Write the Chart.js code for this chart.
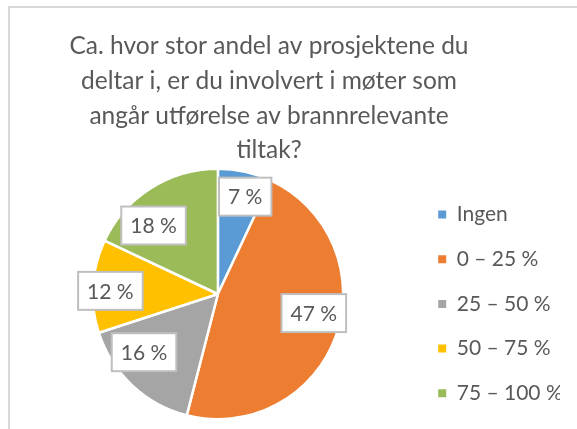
<!DOCTYPE html>
<html>
<head>
<meta charset="utf-8">
<script src="https://cdn.jsdelivr.net/npm/chart.js@4.4.1/dist/chart.umd.min.js"></script>
<style>
  html, body { margin: 0; padding: 0; background: #ffffff; overflow: hidden; width: 577px; height: 429px; }
  #frame { position: absolute; left: 8px; top: 6px; width: 700px; height: 600px;
           border-left: 2px solid #d9d9d9; border-top: 2px solid #d9d9d9; box-sizing: border-box; }
  #c { position: absolute; left: 0; top: 0; }
</style>
</head>
<body>
<div id="frame"></div>
<canvas id="c" width="577" height="429"></canvas>
<script>
// ---- data ----
const titleLines = [
  'Ca. hvor stor andel av prosjektene du',
  'deltar i, er du involvert i møter som',
  'angår utførelse av brannrelevante',
  'tiltak?'
];
const categories = ['Ingen', '0 – 25 %', '25 – 50 %', '50 – 75 %', '75 – 100 %'];
const shares = [7, 47, 16, 12, 18];
const sliceColors = ['#5B9BD5', '#ED7D31', '#A5A5A5', '#FFC000', '#9BBB59'];

Chart.defaults.font.family = 'Lato';
Chart.defaults.color = '#595959';

const sliceLabels = {
  id: 'sliceLabels',
  afterDatasetsDraw(chart, args, opts) {
    const ctx = chart.ctx;
    const meta = chart.getDatasetMeta(0);
    const values = chart.data.datasets[0].data;
    ctx.save();
    ctx.font = opts.fontSize + 'px ' + opts.fontFamily;
    ctx.textAlign = 'center';
    ctx.textBaseline = 'middle';
    meta.data.forEach((arc, i) => {
      const p = arc.getProps(['x', 'y', 'startAngle', 'endAngle', 'outerRadius'], true);
      const mid = (p.startAngle + p.endAngle) / 2;
      const r = p.outerRadius * opts.radiusFactor;
      const nudge = opts.nudge[i] || [0, 0];
      const cx = p.x + Math.cos(mid) * r + nudge[0];
      const cy = p.y + Math.sin(mid) * r + nudge[1];
      const text = values[i] + ' %';
      const w = ctx.measureText(text).width + 2 * opts.padX;
      const h = opts.boxHeight;
      ctx.fillStyle = '#ffffff';
      ctx.fillRect(cx - w / 2, cy - h / 2, w, h);
      ctx.strokeStyle = opts.borderColor;
      ctx.lineWidth = opts.borderWidth;
      ctx.strokeRect(cx - w / 2, cy - h / 2, w, h);
      ctx.fillStyle = opts.color;
      ctx.fillText(text, cx, cy + 1);
    });
    ctx.restore();
  }
};

new Chart(document.getElementById('c'), {
  type: 'pie',
  data: {
    labels: categories,
    datasets: [{
      data: shares,
      backgroundColor: sliceColors,
      borderColor: '#ffffff',
      borderWidth: 2.5,
      hoverBorderWidth: 2.5,
      offset: 0,
      hoverOffset: 0
    }]
  },
  plugins: [sliceLabels],
  options: {
    responsive: false,
    animation: false,
    events: [],
    devicePixelRatio: 1,
    radius: 125.25,
    layout: { padding: { left: -22, right: 17, top: 0, bottom: 1.5 } },
    plugins: {
      tooltip: { enabled: false },
      title: {
        display: true,
        text: titleLines,
        color: '#595959',
        font: { family: 'Lato', size: 24.5, weight: 'normal', lineHeight: 34.7 / 24.5 },
        padding: { top: 29.1, bottom: -7.4 }
      },
      subtitle: {
        display: true,
        position: 'left',
        text: '',
        font: { size: 1, lineHeight: 1 },
        padding: { top: 42.3, bottom: 0 }
      },
      legend: {
        position: 'right',
        align: 'end',
        labels: {
          color: '#595959',
          font: { family: 'Lato', size: 21 },
          boxWidth: 8,
          boxHeight: 8,
          padding: 23.7,
          generateLabels(chart) {
            return Chart.overrides.doughnut.plugins.legend.labels.generateLabels(chart)
              .map(item => Object.assign(item, { lineWidth: 0 }));
          }
        }
      },
      sliceLabels: {
        fontSize: 21,
        fontFamily: 'Lato',
        color: '#595959',
        padX: 9,
        boxHeight: 38,
        borderColor: '#bfbfbf',
        borderWidth: 2,
        radiusFactor: 0.78,
        nudge: [[6, -2], [4, -14], [-7, -13], [-10, 3], [-12, 14]]
      }
    }
  }
});
</script>
</body>
</html>
